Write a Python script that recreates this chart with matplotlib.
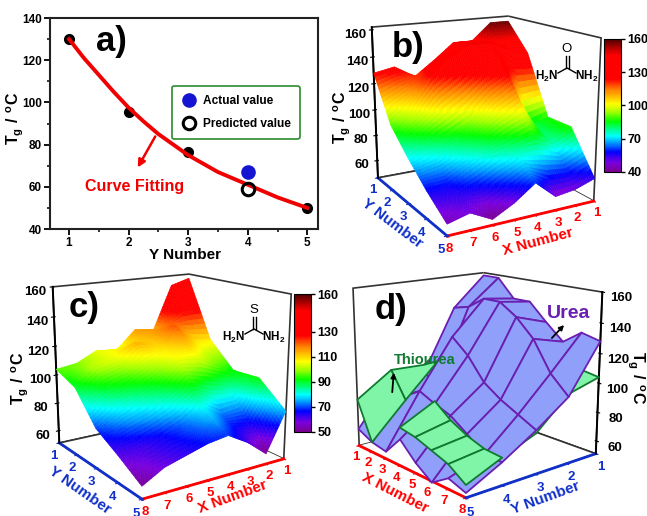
import numpy as np
import matplotlib
matplotlib.use('Agg')
import matplotlib.pyplot as plt
from matplotlib.cm import ScalarMappable
from matplotlib.colors import LinearSegmentedColormap, Normalize
from matplotlib.patches import FancyArrowPatch
from mpl_toolkits.mplot3d.art3d import Poly3DCollection

plt.rcParams['font.family'] = ['Liberation Sans', 'DejaVu Sans']
plt.rcParams['font.weight'] = 'bold'
plt.rcParams['axes.labelweight'] = 'bold'
plt.rcParams['mathtext.fontset'] = 'custom'
plt.rcParams['mathtext.bf'] = 'Liberation Sans:bold'
plt.rcParams['mathtext.rm'] = 'Liberation Sans'

W, H = 647, 516

y_number = [1, 2, 3, 4, 5]
x_number = [1, 2, 3, 4, 5, 6, 7, 8]

actual_y = [1, 2, 3, 4, 5]
actual_tg = [130, 95.5, 76.5, 67, 50]
predicted_tg = 59
curve_y = [1, 1.25, 1.5, 1.75, 2, 2.25, 2.5, 2.75, 3, 3.25, 3.5, 3.75, 4, 4.25, 4.5, 4.75, 5]
curve_tg = [130, 121, 113, 105, 97.5, 91, 85, 80, 75, 71, 67, 64, 61, 58, 55, 52.5, 50]

# rows are Y number 1..5, columns X number 1..8
urea = [
    [158, 158, 145, 145, 133, 122, 131, 128],
    [137, 140, 148, 148, 140, 128, 108, 96],
    [93, 88, 125, 115, 100, 92, 86, 80],
    [93, 85, 92, 87, 83, 75, 66, 66],
    [63, 58, 56, 69, 58, 50, 58, 54],
]
thiourea = [
    [157, 153, 122, 124, 111, 113, 106, 104],
    [116, 118, 130, 118, 122, 113, 110, 98],
    [99, 105, 112, 113, 101, 94, 88, 78],
    [100, 82, 80, 89, 80, 74, 70, 69],
    [84, 58, 69, 77, 75, 71, 67, 59],
]

rainbow = LinearSegmentedColormap.from_list('rainbow_tg', [
    (0.0, '#7a0090'), (0.07, '#7a00e0'), (0.15, '#0000ff'), (0.22, '#00a0ff'), (0.27, '#00ffff'),
    (0.38, '#00ff00'), (0.45, '#a0ff00'), (0.51, '#ffff00'), (0.62, '#ff8000'), (0.70, '#ff0000'),
    (0.88, '#ff0000'), (1.0, '#500000')])


def smooth_surface(ax, z, norm, n=12):
    # subdivide each cell so the colour runs smoothly with height
    z = np.array(z, dtype=float)
    xf = np.linspace(1, 8, 7 * n + 1)
    yf = np.linspace(1, 5, 4 * n + 1)
    a = np.array([np.interp(xf, x_number, row) for row in z])
    b = np.array([np.interp(yf, y_number, col) for col in a.T]).T
    verts, vals = [], []
    for j in range(len(yf) - 1):
        for i in range(len(xf) - 1):
            verts.append([(xf[i], yf[j], b[j, i]), (xf[i + 1], yf[j], b[j, i + 1]),
                          (xf[i + 1], yf[j + 1], b[j + 1, i + 1]), (xf[i], yf[j + 1], b[j + 1, i])])
            vals.append(b[j:j + 2, i:i + 2].mean())
    cols = rainbow(norm(np.array(vals)))
    ax.add_collection3d(Poly3DCollection(verts, facecolors=cols, edgecolors=cols, linewidths=0.4))


def box3d(el, az, bx, by, focal, size, cx, cy, ylim, zlim):
    ax = fig.add_axes([(cx - size / 2) / W, 1 - (cy + size / 2) / H, size / W, size / H], projection='3d')
    ax.view_init(el, az)
    ax.set_proj_type('persp', focal_length=focal)
    ax.set_box_aspect((bx, by, 1), zoom=1)
    ax.set_xlim(1, 8)
    ax.set_ylim(*ylim)
    ax.set_zlim(*zlim)
    ax.grid(False)
    for a in (ax.xaxis, ax.yaxis, ax.zaxis):
        a.set_pane_color('white')
        a.pane.set_edgecolor('#333333')
        a.pane.set_linewidth(1.2)
    ax.set_xticks(x_number)
    ax.set_yticks(y_number)
    ax.set_zticks([60, 80, 100, 120, 140, 160])
    ax.xaxis.line.set_color('red')
    ax.yaxis.line.set_color('#1030c8')
    ax.zaxis.line.set_color('black')
    ax.xaxis.line.set_linewidth(2)
    ax.yaxis.line.set_linewidth(2)
    ax.zaxis.line.set_linewidth(1.4)
    ax.tick_params(axis='x', colors='red', labelsize=9.5, pad=-5)
    ax.tick_params(axis='y', colors='#1030c8', labelsize=9.5, pad=-4)
    ax.tick_params(axis='z', colors='black', labelsize=9.5, pad=0)
    ax.patch.set_alpha(0)
    return ax


def cell(z, i, j):
    return [(x_number[i + a], y_number[j + b], z[j + b][i + a]) for a, b in ((0, 0), (1, 0), (1, 1), (0, 1))]


fig = plt.figure(figsize=(W / 100, H / 100), dpi=100)

# a) curve fit
axa = fig.add_axes([50 / W, 1 - 229 / H, 268 / W, 211 / H])
axa.plot(actual_y[:3] + actual_y[4:], actual_tg[:3] + actual_tg[4:], 'o', color='black', ms=7, zorder=2)
pa, = axa.plot(4, actual_tg[3], 'o', color='#1414d2', ms=9.5, ls='none', zorder=3)
pp, = axa.plot(4, predicted_tg, 'o', mfc='none', mec='black', mew=2.2, ms=9, ls='none', zorder=5)
axa.plot(curve_y, curve_tg, color='#f00000', lw=2.8, zorder=4)
axa.set_xlim(0.68, 5.18)
axa.set_ylim(40, 140)
axa.set_xticks(y_number)
axa.set_yticks([40, 60, 80, 100, 120, 140])
axa.set_xticks(np.arange(1.5, 5, 1), minor=True)
axa.set_yticks(np.arange(50, 140, 20), minor=True)
axa.tick_params(which='major', labelsize=8.5, width=1.3, length=4, pad=2)
axa.tick_params(which='minor', width=1.1, length=2.5)
for s in axa.spines.values():
    s.set_linewidth(1.5)
    s.set_color('#222222')
leg = axa.legend([pa, pp], ['Actual value', 'Predicted value'], loc='upper left', bbox_to_anchor=(0.455, 0.678),
                 borderaxespad=0, fontsize=8.6, frameon=True, fancybox=True, edgecolor='#2e8b2e', framealpha=1,
                 labelspacing=0.95, handletextpad=0.45, borderpad=0.75, handlelength=1.4)
leg.get_frame().set_linewidth(1.2)
axa.annotate('', xy=(2.13, 68), xytext=(2.47, 85),
             arrowprops=dict(arrowstyle='-|>', color='#f00000', lw=1.8, mutation_scale=11))

# b) urea
axb = box3d(15.64, 60.665, 0.995, 1.015, 0.487, 274.367, 477.629, 116.713, (1, 5), (46, 162))
smooth_surface(axb, urea, Normalize(50, 160))

# c) thiourea
axc = box3d(15.476, 56.113, 1.005, 0.997, 0.484, 279.664, 164.58, 376.723, (1, 5), (51, 160))
smooth_surface(axc, thiourea, Normalize(58, 168))

# d) both surfaces; a thiourea cell goes on top only where it lies clearly above urea
axd = box3d(14.902, -40.155, 1.059, 1.032, 0.526, 285.838, 472.01, 375.775, (5, 1), (51, 160))
axd.computed_zorder = False
urea_cells, low_cells, high_cells = [], [], []
for j in range(4):
    for i in range(7):
        u, t = cell(urea, i, j), cell(thiourea, i, j)
        urea_cells.append(u)
        if np.mean([p[2] for p in t]) - np.mean([p[2] for p in u]) > 3.6:
            high_cells.append(t)
        else:
            low_cells.append(t)
for cells, fc, ec_, zo in ((low_cells, '#80f5a8', '#107a30', 1), (urea_cells, '#8f9ffa', '#6a1fb0', 2),
                           (high_cells, '#80f5a8', '#107a30', 3)):
    axd.add_collection3d(Poly3DCollection(cells, facecolors=fc, edgecolors=ec_, linewidths=1.3, zorder=zo))

# colorbars
caxb = fig.add_axes([604 / W, 1 - 172 / H, 17 / W, 133 / H])
cb = fig.colorbar(ScalarMappable(Normalize(40, 160), rainbow), cax=caxb)
cb.set_ticks([40, 70, 100, 130, 160])
cb.ax.tick_params(labelsize=9, length=3, pad=1.5, width=1)
caxc = fig.add_axes([294 / W, 1 - 432 / H, 17 / W, 138 / H])
cc = fig.colorbar(ScalarMappable(Normalize(50, 160), rainbow), cax=caxc)
cc.set_ticks([50, 70, 90, 110, 130, 160])
cc.ax.tick_params(labelsize=9, length=3, pad=1.5, width=1)

# text and decorations in picture pixels
ov = fig.add_axes([0, 0, 1, 1], zorder=20)
ov.set_xlim(0, W)
ov.set_ylim(H, 0)
ov.axis('off')
ov.patch.set_alpha(0)

tg = r'$\mathbf{T_g\ /\ ^oC}$'
ov.text(15, 118, tg, rotation=90, ha='center', va='center', fontsize=11.5)
ov.text(342, 117, tg, rotation=90, ha='center', va='center', fontsize=11.5)
ov.text(20, 378, tg, rotation=90, ha='center', va='center', fontsize=11.5)
ov.text(636, 378, tg, rotation=270, ha='center', va='center', fontsize=11.5)
for t, x, y in (('a)', 111, 42), ('b)', 408, 47), ('c)', 84, 308), ('d)', 391, 309)):
    ov.text(x, y, t, ha='center', va='center', fontsize=25)
ov.text(185, 255, 'Y Number', ha='center', va='center', fontsize=11)
ov.text(135, 187, 'Curve Fitting', color='#f00000', ha='center', va='center', fontsize=11.5)
for t, x, y, r, c in (('Y Number', 392, 223, -37, '#1030c8'), ('X Number', 538, 242, 15, 'red'),
                      ('Y Number', 80, 490, -35, '#1030c8'), ('X Number', 233, 497, 20, 'red'),
                      ('X Number', 395, 493, -27, 'red'), ('Y Number', 545, 498, 20, '#1030c8')):
    ov.text(x, y, t, rotation=r, color=c, ha='center', va='center', fontsize=11, rotation_mode='anchor')
ov.text(569, 313, 'Urea', color='#6a1fb0', ha='center', va='center', fontsize=14)
ov.text(425, 360, 'Thiourea', color='#107a30', ha='center', va='center', fontsize=10.5)
for a, b in (((550, 340), (566, 323)), ((392, 395), (394, 370))):
    ov.add_patch(FancyArrowPatch(a, b, arrowstyle='-|>', color='black', lw=1.3, mutation_scale=7))


def molecule(cx, cy, top):
    ov.text(cx, cy - 19, top, ha='center', va='center', fontsize=9.5, fontweight='normal')
    ov.text(cx - 20, cy + 8, r'$\mathrm{H_2N}$', ha='center', va='center', fontsize=8.5)
    ov.text(cx + 20, cy + 8, r'$\mathrm{NH_2}$', ha='center', va='center', fontsize=8.5)
    ov.plot([cx - 1.5, cx - 1.5], [cy - 12, cy], color='black', lw=1)
    ov.plot([cx + 1.5, cx + 1.5], [cy - 12, cy], color='black', lw=1)
    ov.plot([cx - 9, cx, cx + 9], [cy + 5, cy, cy + 5], color='black', lw=1)


molecule(567, 68, 'O')
molecule(254, 329, 'S')

fig.savefig('out.png', dpi=100)
